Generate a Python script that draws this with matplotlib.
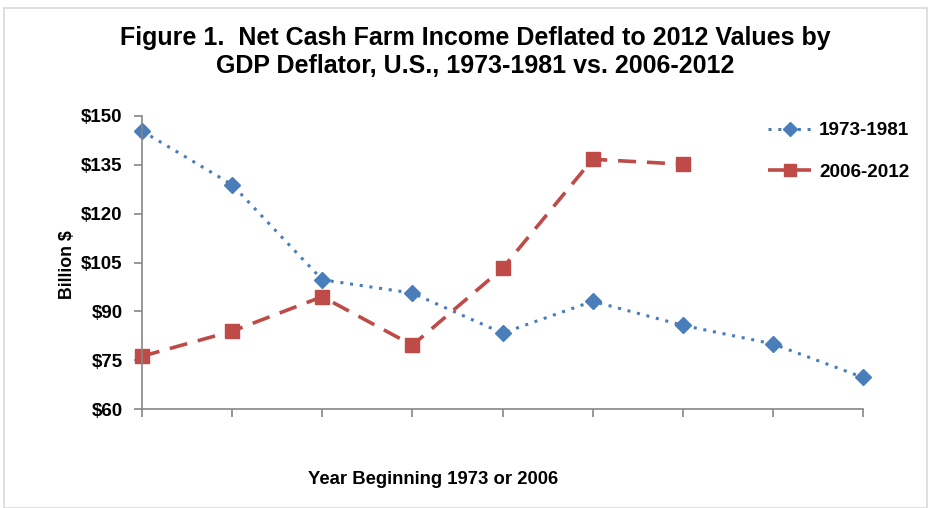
import matplotlib.pyplot as plt
from matplotlib.patches import Rectangle

# values (billion $, 2012 dollars)
years_idx = list(range(9))
income_1973_1981 = [145.4, 128.9, 99.7, 95.6, 83.3, 93.1, 85.7, 80.0, 69.7]
income_2006_2012 = [76.2, 83.9, 94.5, 79.6, 103.2, 136.7, 135.2]
y_ticks = [60, 75, 90, 105, 120, 135, 150]

BLUE = "#4a7ebb"
RED = "#be4b48"
GREY = "#868686"

plt.rcParams["font.family"] = ["Liberation Sans", "DejaVu Sans"]

W, H = 931, 508
fig = plt.figure(figsize=(W / 100, H / 100), dpi=100)
ax = fig.add_axes([142 / W, 1 - 409 / H, (863 - 142) / W, (409 - 116) / H])

ax.plot(years_idx, income_1973_1981, color=BLUE, lw=2.2, ls=(0, (1, 2.2)),
        marker="D", ms=8, mfc=BLUE, mec=BLUE, label="1973-1981", clip_on=False)
ax.plot(years_idx[:len(income_2006_2012)], income_2006_2012, color=RED, lw=2.6,
        ls=(0, (5, 3)), marker="s", ms=10, mfc=RED, mec=RED, label="2006-2012",
        clip_on=False)

ax.set_xlim(0, 8)
ax.set_ylim(60, 150)
ax.set_yticks(y_ticks)
ax.set_yticklabels([f"${v}" for v in y_ticks], fontsize=13.5, fontweight="bold")
ax.set_xticks(years_idx)
ax.set_xticklabels([])

for side in ("top", "right"):
    ax.spines[side].set_visible(False)
for side in ("left", "bottom"):
    ax.spines[side].set_color(GREY)
    ax.spines[side].set_linewidth(1.2)
ax.tick_params(axis="both", color=GREY, width=1.2, length=6, direction="out")
ax.tick_params(axis="y", pad=8)

fig.text(67 / W, 1 - 265 / H, "Billion $", rotation=90, ha="center", va="center",
         fontsize=12.8, fontweight="bold")
fig.text(433 / W, 1 - 479 / H, "Year Beginning 1973 or 2006", ha="center",
         va="center", fontsize=13.3, fontweight="bold")
fig.text(475 / W, 1 - 52 / H,
         "Figure 1.  Net Cash Farm Income Deflated to 2012 Values by\n"
         "GDP Deflator, U.S., 1973-1981 vs. 2006-2012",
         ha="center", va="center", fontsize=18, fontweight="bold", linespacing=1.22)

leg = ax.legend(loc="upper left", bbox_to_anchor=(751 / W, 1 - 105 / H),
                bbox_transform=fig.transFigure, frameon=False,
                prop={"size": 13.6, "weight": "bold"}, markerscale=0.85,
                handlelength=2.3, labelspacing=1.3, handletextpad=0.4)

# light chart border
fig.patches.append(Rectangle((4 / W, 0), 1 - 8 / W, 1 - 8 / H, transform=fig.transFigure,
                             fill=False, edgecolor="#d9d9d9", lw=1.2))

fig.savefig("out.png", dpi=100)
